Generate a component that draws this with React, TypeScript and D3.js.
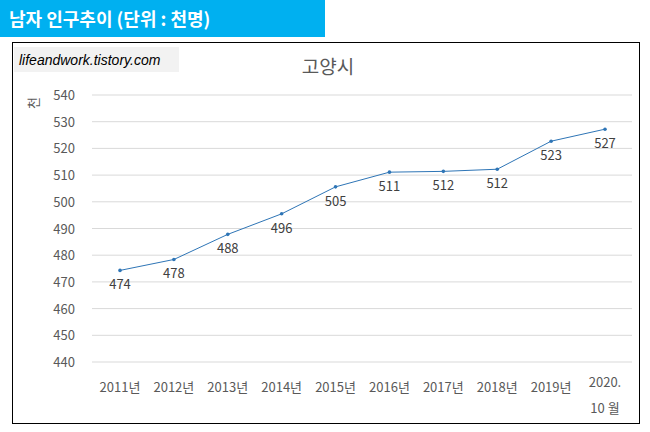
import React from "react";
import * as d3 from "d3";

const categories = ["2011년", "2012년", "2013년", "2014년", "2015년", "2016년", "2017년", "2018년", "2019년", "2020.|10 월"];
const values = [474.3, 478.4, 487.8, 495.5, 505.6, 511.1, 511.4, 512.2, 522.7, 527.2];
const labels = ["474", "478", "488", "496", "505", "511", "512", "512", "523", "527"];
const yTicks = [440, 450, 460, 470, 480, 490, 500, 510, 520, 530, 540];

export default function App() {
  const W = 650, H = 432;
  const x = d3.scalePoint<string>().domain(categories).range([120, 605]);
  const y = d3.scaleLinear().domain([440, 540]).range([362, 95]);
  const line = d3.line<number>().x((_, i) => x(categories[i])!).y(d => y(d));
  const font = "'Malgun Gothic','Noto Sans CJK KR',sans-serif";
  return (
    <svg width={W} height={H} style={{ position: "absolute", left: 0, top: 0 }} fontFamily={font}>
      <rect x={0} y={0} width={W} height={H} fill="#fff" />
      <rect x={0} y={0} width={325} height={37} fill="#00b0f0" />
      <text x={9} y={26} fill="#fff" fontSize={18} fontWeight="bold">남자 인구추이 (단위 : 천명)</text>
      <rect x={12.5} y={42.5} width={627} height={381} fill="#fff" stroke="#000" strokeWidth={1} />
      <rect x={14} y={47} width={165} height={25} fill="#f2f2f2" />
      <text x={19} y={65} fontSize={14} fontStyle="italic" fill="#000" fontFamily="Arial, 'Liberation Sans', sans-serif">lifeandwork.tistory.com</text>
      <text x={328} y={74} textAnchor="middle" fontSize={19} fill="#595959">고양시</text>
      <text transform="translate(38,103) rotate(-90)" textAnchor="middle" fontSize={13} fill="#595959">천</text>
      {yTicks.map(t => (
        <g key={t}>
          <line x1={92} x2={632} y1={y(t)} y2={y(t)} stroke="#d9d9d9" strokeWidth={1} />
          <text x={75} y={y(t) + 5} textAnchor="end" fontSize={13} fill="#595959">{t}</text>
        </g>
      ))}
      {categories.map(c => {
        const parts = c.split("|");
        return (
          <text key={c} x={x(c)!} textAnchor="middle" fontSize={13} fill="#595959">
            {parts.map((p, i) => (
              <tspan key={i} x={x(c)!} y={(parts.length > 1 ? 387 : 392) + i * 26}>{p}</tspan>
            ))}
          </text>
        );
      })}
      <path d={line(values)!} fill="none" stroke="#2e75b6" strokeWidth={1} />
      {values.map((v, i) => (
        <g key={i}>
          <circle cx={x(categories[i])!} cy={y(v)} r={1.8} fill="#2e75b6" />
          <text x={x(categories[i])!} y={y(v) + 19} textAnchor="middle" fontSize={13} fill="#404040">{labels[i]}</text>
        </g>
      ))}
    </svg>
  );
}
